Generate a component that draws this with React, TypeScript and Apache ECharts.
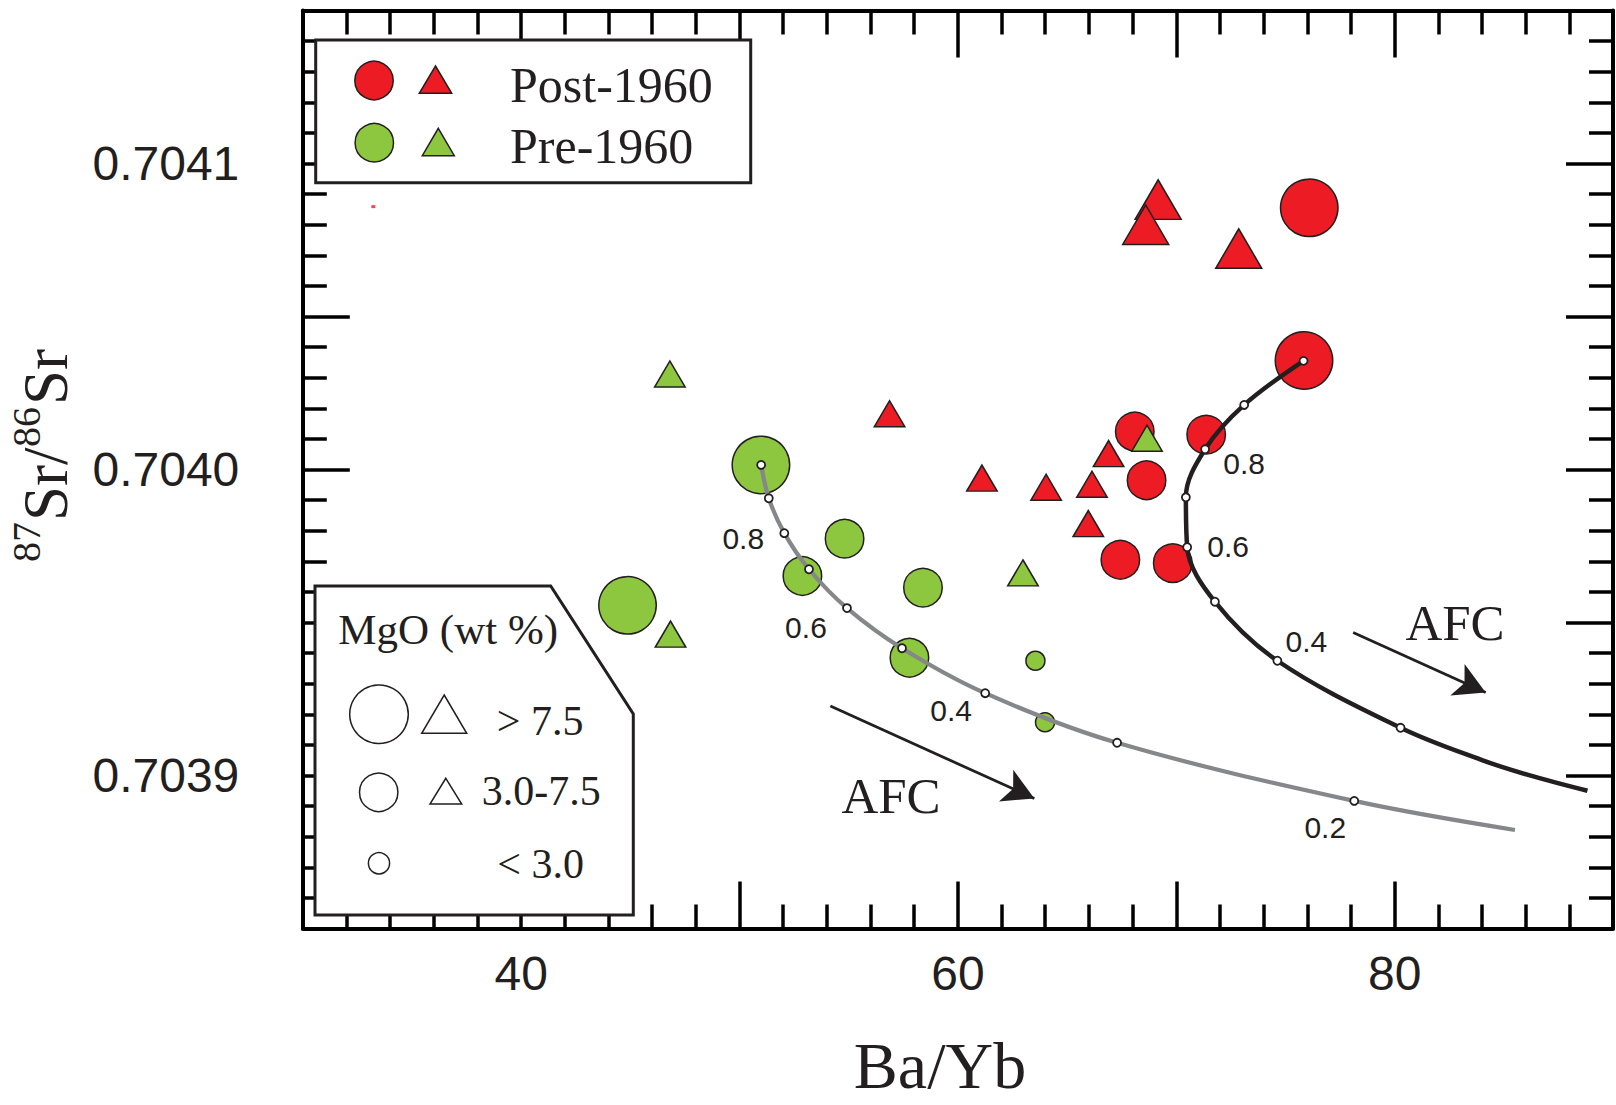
import React, { useEffect, useRef } from "react";
import * as echarts from "echarts";

// ---------- palette ----------
const RED = "#ED1C24";
const GREEN = "#8DC63F";
const INK = "#231f20";
const GRAY_CURVE = "#85878a";

// ---------- axes ----------
const X_MIN = 30;
const X_MAX = 90;
const X_STEP = 10;
const Y_MIN = 0.70385;
const Y_MAX = 0.70415;
const Y_STEP = 0.00005;

// ---------- data: Post-1960 ----------
const postCircleX = [76.09, 75.85, 68.1, 71.37, 68.64, 67.44, 69.84];
const postCircleY = [0.7040855, 0.7040356, 0.7040124, 0.7040114, 0.7039965, 0.7039705, 0.7039694];
const postCircleMgO = ["high", "high", "mid", "mid", "mid", "mid", "mid"];

const postTriX = [69.17, 68.6, 72.86, 56.87, 61.1, 64.04, 66.14, 66.9, 65.97];
const postTriY = [0.7040882, 0.70408, 0.7040722, 0.7040182, 0.7039972, 0.7039942, 0.7039952, 0.7040052, 0.7039823];
const postTriMgO = ["high", "high", "high", "mid", "mid", "mid", "mid", "mid", "mid"];

// ---------- data: Pre-1960 ----------
const preCircleX = [50.98, 44.87, 54.81, 52.88, 58.4, 57.78, 63.55, 63.99];
const preCircleY = [0.7040015, 0.7039556, 0.7039774, 0.7039652, 0.7039614, 0.7039385, 0.7039375, 0.7039174];
const preCircleMgO = ["high", "high", "mid", "mid", "mid", "mid", "low", "low"];

const preTriX = [46.81, 46.84, 68.66, 62.98];
const preTriY = [0.7040312, 0.7039462, 0.7040102, 0.7039662];
const preTriMgO = ["mid", "mid", "mid", "mid"];

// stray red speck in the original figure
const strayX = [33.23];
const strayY = [0.7040859];

// ---------- AFC model curves ----------
const grayCurveX = [50.99, 51.34, 52.05, 53.18, 54.92, 57.44, 61.25, 67.29, 78.15, 85.51];
const grayCurveY = [0.7040015, 0.7039906, 0.7039792, 0.7039674, 0.7039547, 0.7039416, 0.7039269, 0.7039107, 0.7038917, 0.7038822];
const grayCurveF = [1.0, 0.9, 0.8, 0.7, 0.6, 0.5, 0.4, 0.3, 0.2];
const grayLabelledF = [0.8, 0.6, 0.4, 0.2];

const blackCurveX = [75.83, 73.11, 71.32, 70.44, 70.5, 71.77, 74.63, 80.27, 83.97, 86.11, 88.83];
const blackCurveY = [0.7040355, 0.7040211, 0.7040066, 0.7039909, 0.7039746, 0.7039568, 0.7039375, 0.7039156, 0.7039051, 0.7039002, 0.703895];
const blackCurveF = [1.0, 0.9, 0.8, 0.7, 0.6, 0.5, 0.4, 0.3];
const blackLabelledF = [0.8, 0.6, 0.4];

// ---------- AFC arrows (tail -> tip) ----------
const arrowStartX = [54.16, 78.1];
const arrowStartY = [0.7039227, 0.7039467];
const arrowEndX = [63.5, 84.17];
const arrowEndY = [0.7038925, 0.7039271];

// ---------- text ----------
const xTickLabels = ["40", "60", "80"];
const yTickLabels = ["0.7039", "0.7040", "0.7041"];

// ---------- styles ----------
const circleSize: Record<string, number> = { high: 57.5, mid: 38.5, low: 19 };
const triSize: Record<string, number[]> = { high: [46, 39.5], mid: [30.5, 26], low: [20, 17] };
const grayLabelOffset: Record<string, number[]> = {
  "0.8": [-41, 5],
  "0.6": [-41, 19],
  "0.4": [-34, 17],
  "0.2": [-29, 27],
};
const blackLabelOffset: Record<string, number[]> = {
  "0.8": [39, 14],
  "0.6": [41, -1],
  "0.4": [29, -19],
};

const SERIF = '"Liberation Serif", "Times New Roman", serif';
const SANS = '"Liberation Sans", Arial, sans-serif';

function markerData(xs: number[], ys: number[], fs: number[], labelled: number[], offsets: Record<string, number[]>) {
  return fs.map((f, i) => {
    const key = f.toFixed(1);
    const show = labelled.some((l) => Math.abs(l - f) < 1e-9);
    return {
      value: [xs[i], ys[i]],
      label: show ? { show: true, formatter: key, offset: offsets[key] } : { show: false },
    };
  });
}

export default function App() {
  const ref = useRef<HTMLDivElement>(null);

  useEffect(() => {
    if (!ref.current) return;
    const chart = echarts.init(ref.current, null, { renderer: "svg" });

    const axisCommon: any = {
      type: "value",
      axisLine: { show: true, onZero: false, lineStyle: { color: "#000", width: 4 } },
      axisTick: { show: true, inside: true, length: 47, lineStyle: { color: "#000", width: 3.5 } },
      minorTick: { show: true, splitNumber: 5, length: 24, lineStyle: { color: "#000", width: 3.5 } },
      splitLine: { show: false },
      minorSplitLine: { show: false },
    };

    const scatterBase = {
      type: "scatter",
      silent: true,
      emphasis: { disabled: true },
      xAxisIndex: 0,
      yAxisIndex: 0,
    };

    const ptStroke = { borderColor: INK, borderWidth: 1.5, opacity: 1 };
    const curveLabel = {
      show: false,
      position: "inside",
      fontSize: 30,
      fontFamily: SANS,
      color: INK,
      align: "center",
      verticalAlign: "middle",
      textBorderWidth: 0,
      textShadowBlur: 0,
    };

    const option: any = {
      animation: false,
      backgroundColor: "#ffffff",
      grid: { left: 302.8, top: 10.5, width: 1310.5, height: 918, containLabel: false },
      xAxis: [
        {
          ...axisCommon,
          position: "bottom",
          min: X_MIN,
          max: X_MAX,
          interval: X_STEP,
          axisLabel: {
            show: true,
            margin: 21,
            fontSize: 48,
            fontFamily: SANS,
            color: INK,
            formatter: (v: number) => (xTickLabels.includes(String(v)) ? String(v) : ""),
          },
        },
        {
          ...axisCommon,
          position: "top",
          min: X_MIN,
          max: X_MAX,
          interval: X_STEP,
          axisLabel: { show: false },
        },
      ],
      yAxis: [
        {
          ...axisCommon,
          position: "left",
          min: Y_MIN,
          max: Y_MAX,
          interval: Y_STEP,
          axisLabel: {
            show: true,
            margin: 63.5,
            fontSize: 48,
            fontFamily: SANS,
            color: INK,
            formatter: (v: number) => {
              const s = v.toFixed(4);
              return yTickLabels.includes(s) && Math.abs(v - Number(s)) < 1e-9 ? s : "";
            },
          },
        },
        {
          ...axisCommon,
          position: "right",
          min: Y_MIN,
          max: Y_MAX,
          interval: Y_STEP,
          axisLabel: { show: false },
        },
      ],
      series: [
        {
          ...scatterBase,
          name: "Post-1960 circles",
          symbol: "circle",
          itemStyle: { color: RED, ...ptStroke },
          data: postCircleX.map((x, i) => ({ value: [x, postCircleY[i]], symbolSize: circleSize[postCircleMgO[i]] })),
        },
        {
          ...scatterBase,
          name: "Post-1960 triangles",
          symbol: "triangle",
          itemStyle: { color: RED, ...ptStroke },
          data: postTriX.map((x, i) => ({ value: [x, postTriY[i]], symbolSize: triSize[postTriMgO[i]] })),
        },
        {
          ...scatterBase,
          name: "Pre-1960 circles",
          symbol: "circle",
          itemStyle: { color: GREEN, ...ptStroke },
          data: preCircleX.map((x, i) => ({ value: [x, preCircleY[i]], symbolSize: circleSize[preCircleMgO[i]] })),
        },
        {
          ...scatterBase,
          name: "Pre-1960 triangles",
          symbol: "triangle",
          itemStyle: { color: GREEN, ...ptStroke },
          data: preTriX.map((x, i) => ({ value: [x, preTriY[i]], symbolSize: triSize[preTriMgO[i]] })),
        },
        {
          ...scatterBase,
          name: "stray",
          symbol: "rect",
          symbolSize: [4, 3],
          itemStyle: { color: RED },
          data: strayX.map((x, i) => [x, strayY[i]]),
        },
        {
          type: "line",
          name: "AFC gray",
          silent: true,
          smooth: 0.35,
          showSymbol: false,
          symbol: "none",
          lineStyle: { color: GRAY_CURVE, width: 4.2 },
          data: grayCurveX.map((x, i) => [x, grayCurveY[i]]),
          z: 3,
        },
        {
          type: "line",
          name: "AFC black",
          silent: true,
          smooth: 0.35,
          showSymbol: false,
          symbol: "none",
          lineStyle: { color: INK, width: 4.5 },
          data: blackCurveX.map((x, i) => [x, blackCurveY[i]]),
          z: 3,
        },
        {
          ...scatterBase,
          name: "AFC gray marks",
          symbol: "circle",
          symbolSize: 8,
          itemStyle: { color: "#fff", borderColor: INK, borderWidth: 1.8, opacity: 1 },
          label: curveLabel,
          data: markerData(grayCurveX, grayCurveY, grayCurveF, grayLabelledF, grayLabelOffset),
          z: 4,
        },
        {
          ...scatterBase,
          name: "AFC black marks",
          symbol: "circle",
          symbolSize: 8,
          itemStyle: { color: "#fff", borderColor: INK, borderWidth: 1.8, opacity: 1 },
          label: curveLabel,
          data: markerData(blackCurveX, blackCurveY, blackCurveF, blackLabelledF, blackLabelOffset),
          z: 4,
        },
        {
          type: "lines",
          name: "AFC arrows",
          coordinateSystem: "cartesian2d",
          silent: true,
          symbol: ["none", "arrow"],
          symbolSize: [0, [26, 31]],
          lineStyle: { color: INK, width: 2.8, opacity: 1, curveness: 0 },
          data: arrowStartX.map((x, i) => ({
            coords: [
              [x, arrowStartY[i]],
              [arrowEndX[i], arrowEndY[i]],
            ],
          })),
          z: 4,
        },
      ],
      graphic: [
        // ---- legend 1 (period) ----
        {
          type: "rect",
          z: 100,
          shape: { x: 315.7, y: 40, width: 435, height: 142.7 },
          style: { fill: "#fff", stroke: INK, lineWidth: 3 },
        },
        {
          type: "circle",
          z: 101,
          shape: { cx: 374, cy: 80.5, r: 19.2 },
          style: { fill: RED, stroke: INK, lineWidth: 1.5 },
        },
        {
          type: "polygon",
          z: 101,
          shape: { points: [[435.5, 66], [451.7, 93.3], [419.3, 93.3]] },
          style: { fill: RED, stroke: INK, lineWidth: 1.5 },
        },
        {
          type: "text",
          z: 101,
          x: 510,
          y: 84.8,
          style: { text: "Post-1960", font: `50px ${SERIF}`, fill: INK, textAlign: "left", textVerticalAlign: "middle" },
        },
        {
          type: "circle",
          z: 101,
          shape: { cx: 374.3, cy: 142.7, r: 19.2 },
          style: { fill: GREEN, stroke: INK, lineWidth: 1.5 },
        },
        {
          type: "polygon",
          z: 101,
          shape: { points: [[438.3, 128.3], [454.3, 155.7], [422.3, 155.7]] },
          style: { fill: GREEN, stroke: INK, lineWidth: 1.5 },
        },
        {
          type: "text",
          z: 101,
          x: 510,
          y: 145.8,
          style: { text: "Pre-1960", font: `50px ${SERIF}`, fill: INK, textAlign: "left", textVerticalAlign: "middle" },
        },
        // ---- legend 2 (MgO) ----
        {
          type: "polygon",
          z: 100,
          shape: { points: [[315, 586], [550.7, 586], [633.3, 714], [633.3, 915], [315, 915]] },
          style: { fill: "#fff", stroke: INK, lineWidth: 3 },
        },
        {
          type: "text",
          z: 101,
          x: 338.3,
          y: 629.1,
          style: { text: "MgO (wt %)", font: `43px ${SERIF}`, fill: INK, textAlign: "left", textVerticalAlign: "middle" },
        },
        {
          type: "circle",
          z: 101,
          shape: { cx: 379, cy: 714.3, r: 29.3 },
          style: { fill: "none", stroke: INK, lineWidth: 1.5 },
        },
        {
          type: "polygon",
          z: 101,
          shape: { points: [[444.2, 695], [466.7, 733.3], [421.7, 733.3]] },
          style: { fill: "none", stroke: INK, lineWidth: 1.5 },
        },
        {
          type: "text",
          z: 101,
          x: 496.7,
          y: 720.8,
          style: { text: "> 7.5", font: `42px ${SERIF}`, fill: INK, textAlign: "left", textVerticalAlign: "middle" },
        },
        {
          type: "circle",
          z: 101,
          shape: { cx: 378.7, cy: 792.3, r: 19.2 },
          style: { fill: "none", stroke: INK, lineWidth: 1.5 },
        },
        {
          type: "polygon",
          z: 101,
          shape: { points: [[445.8, 778.3], [461.7, 804], [430, 804]] },
          style: { fill: "none", stroke: INK, lineWidth: 1.5 },
        },
        {
          type: "text",
          z: 101,
          x: 481.7,
          y: 790.8,
          style: { text: "3.0-7.5", font: `42px ${SERIF}`, fill: INK, textAlign: "left", textVerticalAlign: "middle" },
        },
        {
          type: "circle",
          z: 101,
          shape: { cx: 379, cy: 863.3, r: 10.6 },
          style: { fill: "none", stroke: INK, lineWidth: 1.5 },
        },
        {
          type: "text",
          z: 101,
          x: 497.3,
          y: 864.1,
          style: { text: "< 3.0", font: `42px ${SERIF}`, fill: INK, textAlign: "left", textVerticalAlign: "middle" },
        },
        // ---- AFC labels ----
        {
          type: "text",
          z: 50,
          x: 891,
          y: 795.5,
          style: { text: "AFC", font: `51px ${SERIF}`, fill: INK, textAlign: "center", textVerticalAlign: "middle" },
        },
        {
          type: "text",
          z: 50,
          x: 1455,
          y: 623.3,
          style: { text: "AFC", font: `51px ${SERIF}`, fill: INK, textAlign: "center", textVerticalAlign: "middle" },
        },
        // ---- axis titles ----
        {
          type: "text",
          z: 50,
          x: 940,
          y: 1065,
          style: { text: "Ba/Yb", font: `66px ${SERIF}`, fill: INK, textAlign: "center", textVerticalAlign: "middle" },
        },
        {
          type: "group",
          z: 50,
          x: 0,
          y: 562,
          rotation: Math.PI / 2,
          children: [
            { type: "text", x: 0, y: 26.5, style: { text: "87", font: `40px ${SERIF}`, fill: INK, textAlign: "left", textVerticalAlign: "middle" } },
            { type: "text", x: 41, y: 45.5, style: { text: "Sr", font: `63px ${SERIF}`, fill: INK, textAlign: "left", textVerticalAlign: "middle" } },
            { type: "text", x: 97, y: 45.5, style: { text: "/", font: `63px ${SERIF}`, fill: INK, textAlign: "left", textVerticalAlign: "middle" } },
            { type: "text", x: 115, y: 26.5, style: { text: "86", font: `40px ${SERIF}`, fill: INK, textAlign: "left", textVerticalAlign: "middle" } },
            { type: "text", x: 157, y: 45.5, style: { text: "Sr", font: `63px ${SERIF}`, fill: INK, textAlign: "left", textVerticalAlign: "middle" } },
          ],
        },
      ],
    };

    chart.setOption(option);
    return () => {
      chart.dispose();
    };
  }, []);

  return (
    <div
      ref={ref}
      style={{ position: "fixed", left: 0, top: 0, width: 1616, height: 1105, background: "#fff" }}
    />
  );
}
